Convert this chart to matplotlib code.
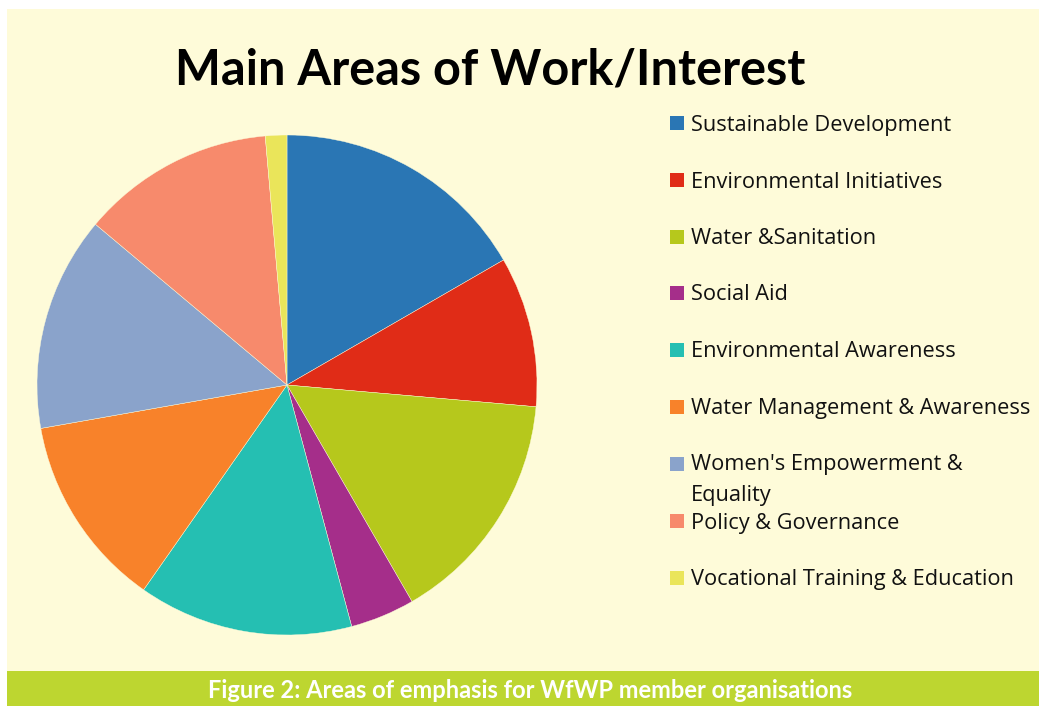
import matplotlib.pyplot as plt
from matplotlib.patches import Rectangle

# data (counts)
labels = ['Sustainable Development', 'Environmental Initiatives', 'Water &Sanitation',
          'Social Aid', 'Environmental Awareness', 'Water Management & Awareness',
          "Women's Empowerment &\nEquality", 'Policy & Governance',
          'Vocational Training & Education']
counts = [12, 7, 11, 3, 10, 9, 10, 9, 1]
colors = ['#2A76B4', '#E02C17', '#B6C81C', '#A52E8A', '#25BFB2',
          '#F8822A', '#8AA3CB', '#F78A6C', '#EAE55A']

W, H = 1039, 706
bg = '#FEFBD9'
green = '#BDD630'

fig = plt.figure(figsize=(W / 100, H / 100), dpi=100)
fig.patch.set_facecolor('white')
fig.add_artist(Rectangle((7 / W, 0), 1, (H - 9) / H, transform=fig.transFigure,
                         facecolor=bg, edgecolor='none', zorder=0))
fig.add_artist(Rectangle((7 / W, 0), 1, 35 / H, transform=fig.transFigure,
                         facecolor=green, edgecolor='none', zorder=0))

# pie
cx, cy, r = 287, 385, 250
ax = fig.add_axes([(cx - r) / W, (H - cy - r) / H, 2 * r / W, 2 * r / H])
ax.pie(counts, colors=colors, startangle=90, counterclock=False, radius=1,
       wedgeprops=dict(linewidth=0.3, edgecolor=bg))
ax.set_xlim(-1, 1)
ax.set_ylim(-1, 1)
ax.set_aspect('auto')
ax.axis('off')

fig.text(490 / W, 1 - 70 / H, 'Main Areas of Work/Interest', ha='center', va='center',
         fontsize=35, fontweight='bold', family='Lato')

# legend
rows = [123, 180, 237, 293, 350, 407, 464, 521, 578]
for lab, col, y in zip(labels, colors, rows):
    fig.add_artist(Rectangle((670 / W, 1 - (y + 7) / H), 14 / W, 14 / H,
                             transform=fig.transFigure, facecolor=col, edgecolor='none'))
    fig.text(691 / W, 1 - (y + 2) / H, lab, ha='left', va='top' if '\n' in lab else 'center',
             fontsize=15.7, family='Open Sans', color='#111111', linespacing=1.6)
# shift the wrapped entry to start at its first line
fig.texts[-3].set_position((691 / W, 1 - (464 - 10) / H))

fig.text(530 / W, 1 - 691 / H, 'Figure 2: Areas of emphasis for WfWP member organisations',
         ha='center', va='center', fontsize=17, color='white', family='Lato', fontweight='bold')

fig.savefig('out.png', dpi=100, facecolor=fig.get_facecolor())
